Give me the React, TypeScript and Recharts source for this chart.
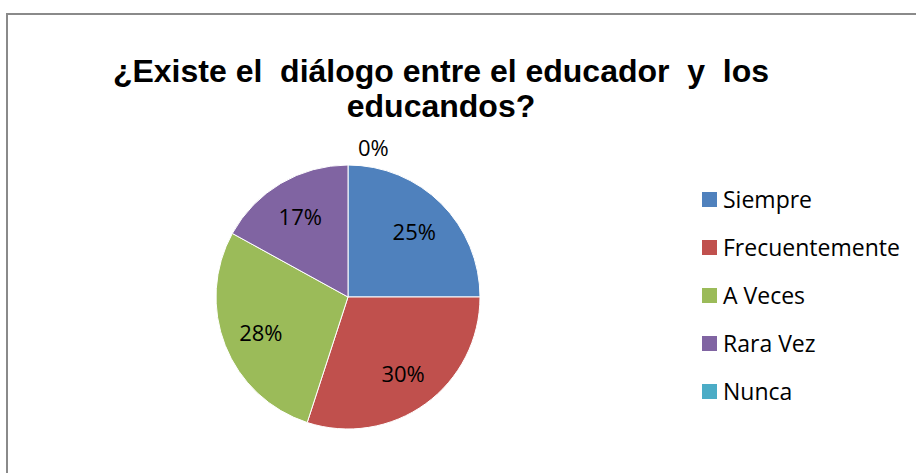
import { PieChart, Pie, Cell, Legend } from 'recharts'

const categories = ['Siempre', 'Frecuentemente', 'A Veces', 'Rara Vez', 'Nunca']
const percents = [25, 30, 28, 17, 0]
const colors = ['#4F81BD', '#C0504D', '#9BBB59', '#8064A2', '#4BACC6']

const data = categories.map((name, i) => ({ name, value: percents[i] }))

const RAD = Math.PI / 180
const FONT = '"Open Sans", sans-serif'

function renderLabel(props: any) {
  const { cx, cy, midAngle, outerRadius, value } = props
  if (value === 0) {
    // Excel drops the empty slice's label just outside the top edge
    return (
      <text x={cx + 10} y={cy - outerRadius - 9} fill="#000" fontSize={22} fontFamily={FONT}>
        {value}%
      </text>
    )
  }
  const r = outerRadius * 0.71
  const x = cx + r * Math.cos(-midAngle * RAD)
  const y = cy + r * Math.sin(-midAngle * RAD)
  return (
    <text x={x} y={y} fill="#000" fontSize={22} fontFamily={FONT} textAnchor="middle" dominantBaseline="central">
      {value}%
    </text>
  )
}

function LegendBox() {
  return (
    <div style={{ fontFamily: FONT, fontSize: 23, color: '#000' }}>
      {categories.map((c, i) => (
        <div key={c} style={{ display: 'flex', alignItems: 'center', height: 48 }}>
          <span style={{ width: 15, height: 15, background: colors[i], marginRight: 6, display: 'inline-block' }} />
          <span>{c}</span>
        </div>
      ))}
    </div>
  )
}

export default function App() {
  return (
    <div style={{ position: 'absolute', left: 0, top: 0, width: 916, height: 473, overflow: 'hidden', background: '#fff' }}>
      <div
        style={{
          position: 'absolute',
          left: 6,
          top: 13,
          width: 1000,
          height: 1000,
          borderLeft: '2px solid #8a8a8a',
          borderTop: '2px solid #8a8a8a',
        }}
      />
      <div
        style={{
          position: 'absolute',
          left: 0,
          top: 54,
          width: 882,
          textAlign: 'center',
          fontFamily: '"Liberation Sans", Arial, sans-serif',
          fontWeight: 'bold',
          fontSize: 32,
          lineHeight: '35px',
          color: '#000',
          whiteSpace: 'pre',
        }}
      >
        <div>{'¿Existe el  diálogo entre el educador  y  los'}</div>
        <div>educandos?</div>
      </div>
      <PieChart
        width={916}
        height={473}
        margin={{ top: 0, right: 0, bottom: 0, left: 0 }}
        style={{ position: 'absolute', left: 0, top: 0 }}
      >
        <Pie
          data={data}
          dataKey="value"
          nameKey="name"
          cx={348}
          cy={297}
          outerRadius={132}
          startAngle={90}
          endAngle={-270}
          stroke="#fff"
          strokeWidth={1}
          label={renderLabel}
          labelLine={false}
          isAnimationActive={false}
        >
          {data.map((d, i) => (
            <Cell key={d.name} fill={colors[i]} />
          ))}
        </Pie>
        <Legend
          layout="vertical"
          align="right"
          verticalAlign="top"
          content={<LegendBox />}
          wrapperStyle={{ left: 702, top: 175, width: 214 }}
        />
      </PieChart>
    </div>
  )
}
